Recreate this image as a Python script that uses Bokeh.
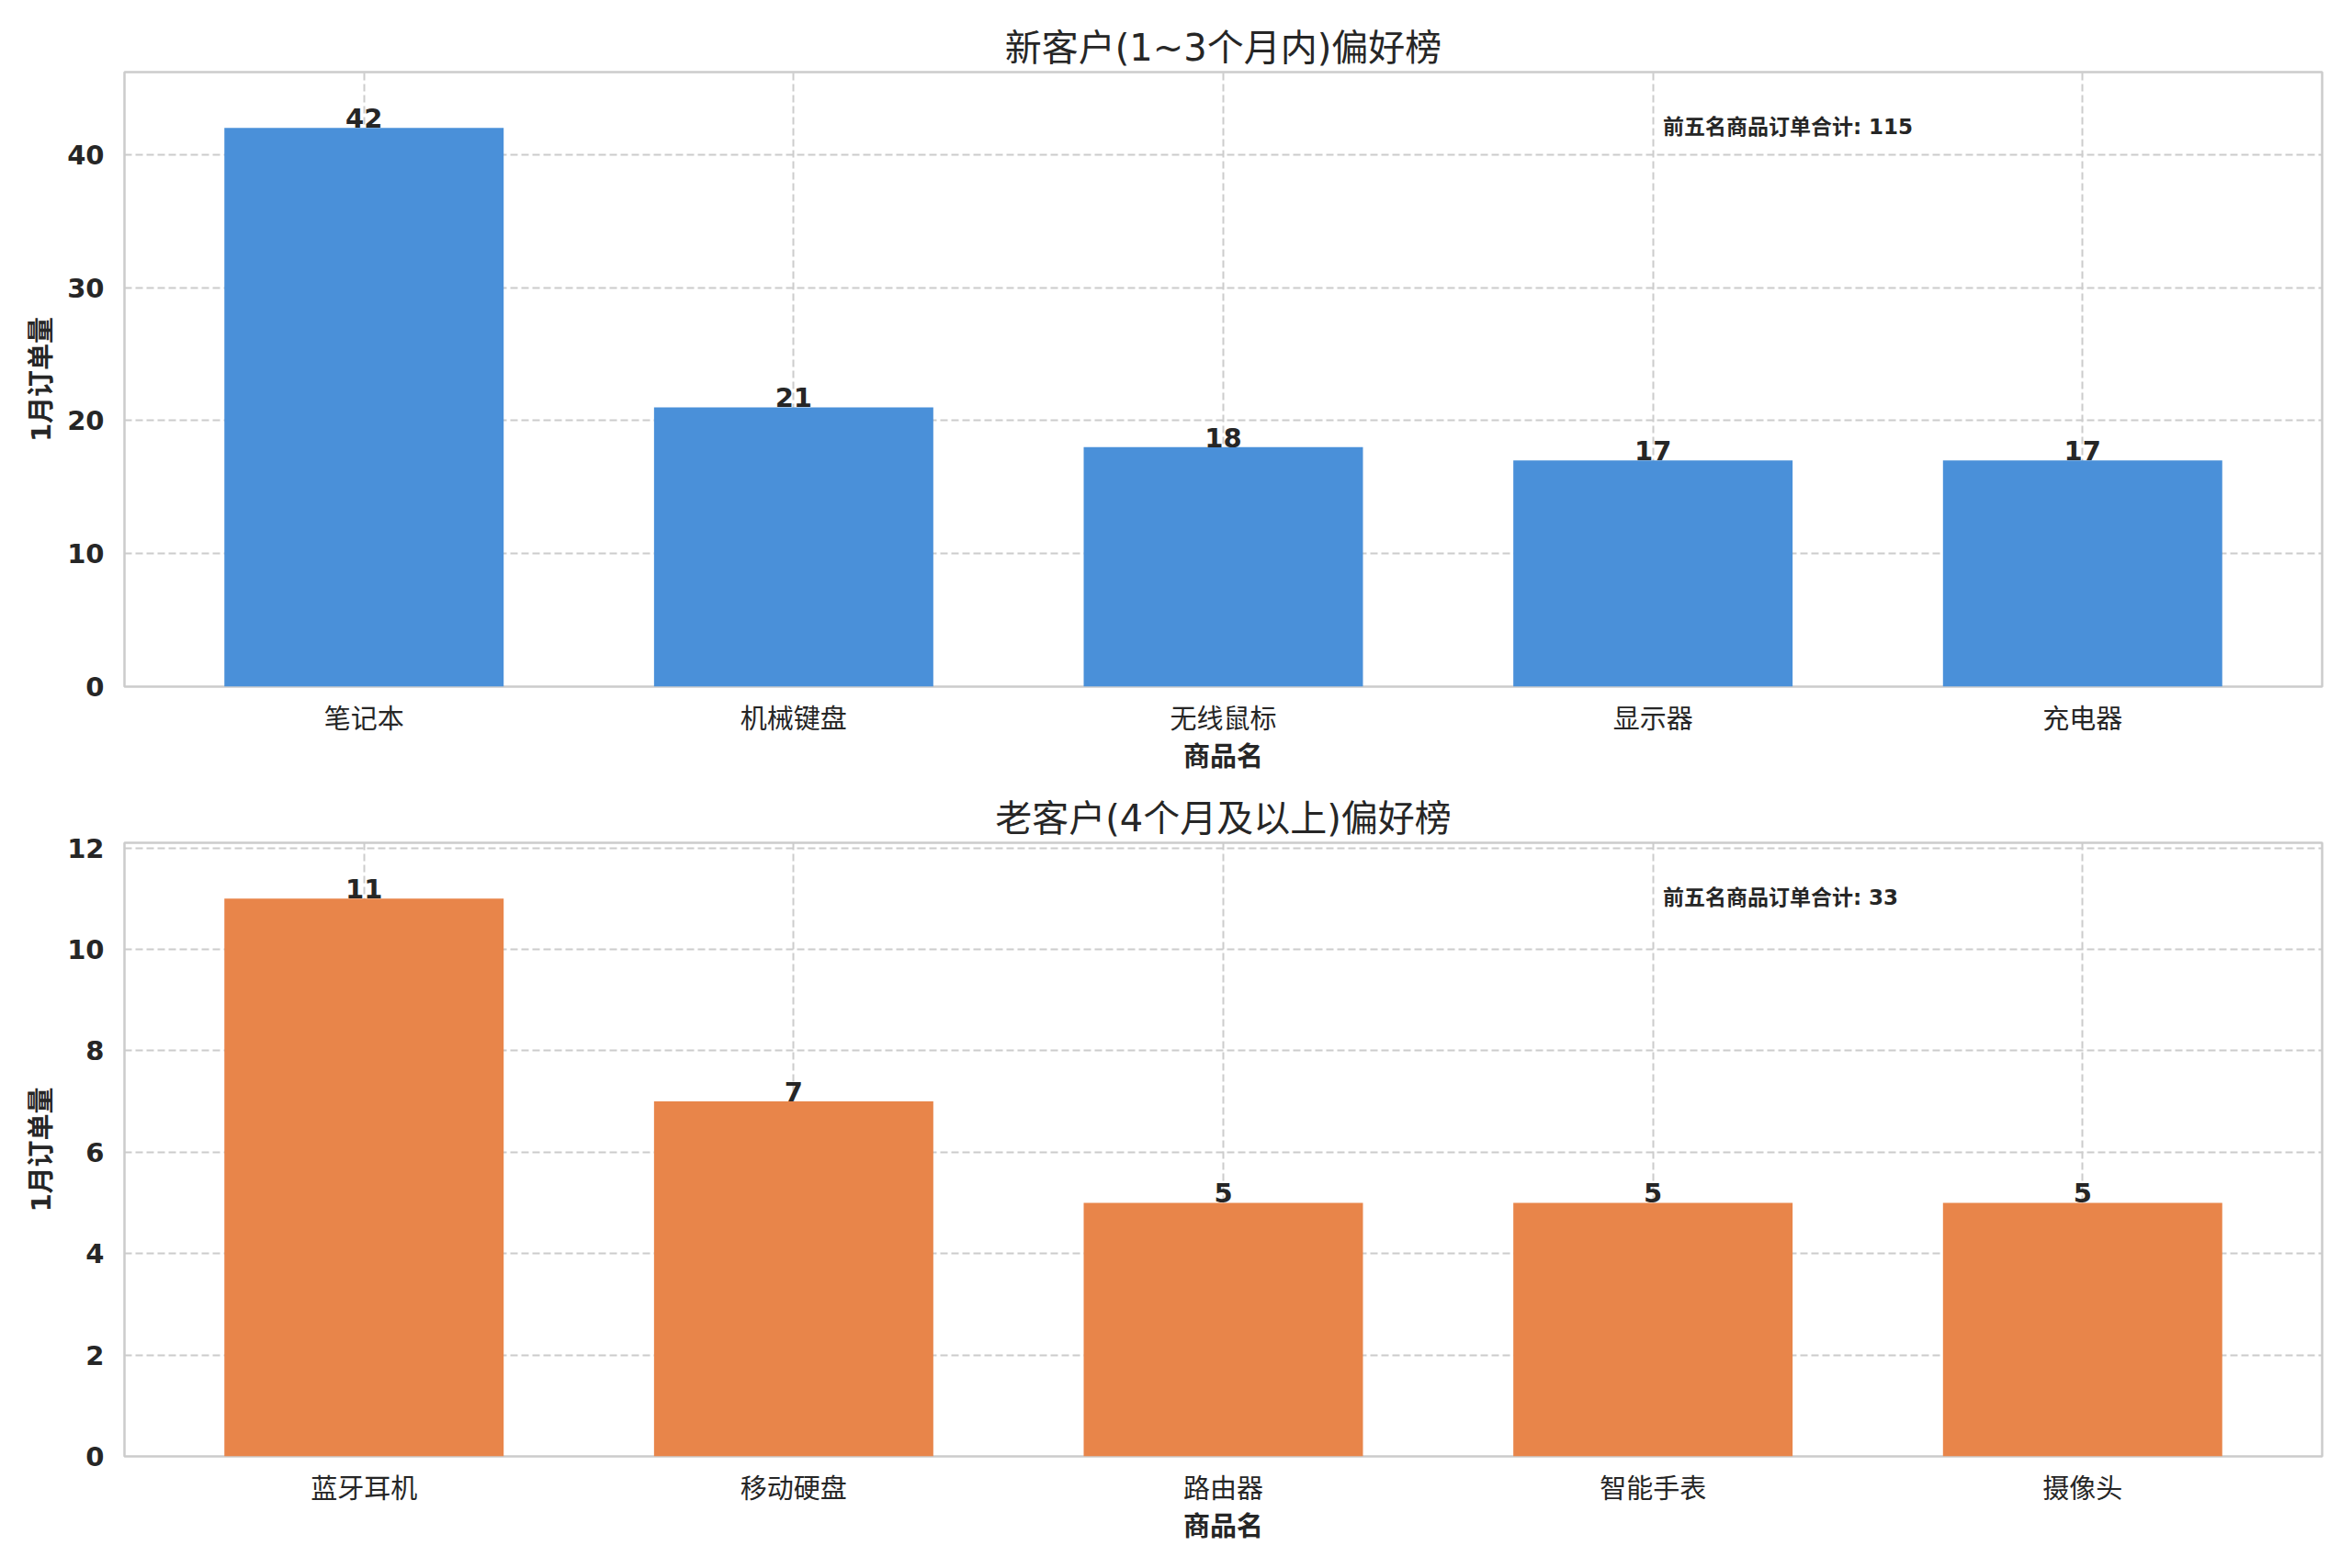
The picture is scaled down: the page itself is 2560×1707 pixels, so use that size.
from bokeh.plotting import figure
from bokeh.models import ColumnDataSource, FixedTicker, Range1d, Label
from bokeh.layouts import column
from bokeh.core.properties import value
from bokeh.embed import file_html
from bokeh.resources import INLINE

# ---------------- data ----------------
top_title = "新客户(1~3个月内)偏好榜"
top_categories = ["笔记本", "机械键盘", "无线鼠标", "显示器", "充电器"]
top_values = [42, 21, 18, 17, 17]
top_yticks = [0, 10, 20, 30, 40]

bottom_title = "老客户(4个月及以上)偏好榜"
bottom_categories = ["蓝牙耳机", "移动硬盘", "路由器", "智能手表", "摄像头"]
bottom_values = [11, 7, 5, 5, 5]
bottom_yticks = [0, 2, 4, 6, 8, 10, 12]

x_label = "商品名"
y_label = "1月订单量"
total_label = "前五名商品订单合计"

# ---------------- style ----------------
FONT = "'DejaVu Sans', 'Noto Sans CJK SC', sans-serif"
TXT = "#262626"
EDGE = "#cccccc"
BLUE = "#4A90D9"
ORANGE = "#E8854A"
BAR_W = 0.65


def make_panel(title, cats, vals, yticks, color, top_border, frame_h, bottom_border):
    n = len(cats)
    pad = 0.05 * (n - 1 + BAR_W)
    xr = Range1d(-BAR_W / 2 - pad, n - 1 + BAR_W / 2 + pad)
    yr = Range1d(0, max(vals) * 1.1)
    p = figure(frame_width=2392, frame_height=frame_h, x_range=xr, y_range=yr,
               output_backend="svg", toolbar_location=None,
               min_border_left=135, min_border_right=25,
               min_border_top=top_border, min_border_bottom=bottom_border,
               background_fill_color="white", border_fill_color="white")
    p.title.text = title
    p.title.align = "center"
    p.title.text_font = FONT
    p.title.text_font_size = "40px"
    p.title.text_font_style = "normal"
    p.title.text_color = TXT
    p.title.standoff = 8

    p.outline_line_color = EDGE
    p.outline_line_width = 2.5

    xs = list(range(n))
    src = ColumnDataSource(dict(x=xs, top=vals, label=[str(v) for v in vals]))
    p.vbar(x="x", top="top", bottom=0, width=BAR_W, source=src,
           fill_color=color, line_color=None)
    p.text(x="x", y="top", text="label", source=src, text_align="center",
           text_baseline="bottom", text_font=value(FONT), text_font_style="bold",
           text_font_size="29px", text_color=TXT)

    # axes
    p.xaxis.ticker = FixedTicker(ticks=xs)
    p.xaxis.major_label_overrides = {i: c for i, c in enumerate(cats)}
    p.yaxis.ticker = FixedTicker(ticks=yticks)
    for ax in (p.xaxis[0], p.yaxis[0]):
        ax.axis_line_color = None
        ax.major_tick_line_color = None
        ax.minor_tick_line_color = None
        ax.major_tick_out = 0
        ax.major_tick_in = 0
        ax.major_label_text_font = FONT
        ax.major_label_text_font_size = "29px"
        ax.major_label_text_color = TXT
        ax.axis_label_text_font = FONT
        ax.axis_label_text_font_size = "29px"
        ax.axis_label_text_font_style = "bold"
        ax.axis_label_text_color = TXT
    p.xaxis.major_label_text_font_style = "normal"
    p.yaxis.major_label_text_font_style = "bold"
    p.xaxis.major_label_standoff = 18
    p.yaxis.major_label_standoff = 22
    p.xaxis.axis_label = x_label
    p.yaxis.axis_label = y_label
    p.xaxis.axis_label_standoff = 4
    p.yaxis.axis_label_standoff = 8

    # grid
    for g in (p.xgrid[0], p.ygrid[0]):
        g.grid_line_color = EDGE
        g.grid_line_width = 2
        g.grid_line_dash = "8 4"

    # total annotation
    lx = xr.start + 0.70 * (xr.end - xr.start)
    ly = yr.start + 0.911 * (yr.end - yr.start)
    p.add_layout(Label(x=lx, y=ly, text=f"{total_label}: {sum(vals)}",
                       text_font=FONT, text_font_size="23px",
                       text_font_style="bold", text_color=TXT,
                       text_baseline="middle", text_align="left"))
    return p


p1 = make_panel(top_title, top_categories, top_values, top_yticks, BLUE, 78, 669, 110)
p2 = make_panel(bottom_title, bottom_categories, bottom_values, bottom_yticks, ORANGE, 60, 668, 110)

layout = column(p1, p2, spacing=0)
open("out.html", "w").write(file_html(layout, INLINE))
